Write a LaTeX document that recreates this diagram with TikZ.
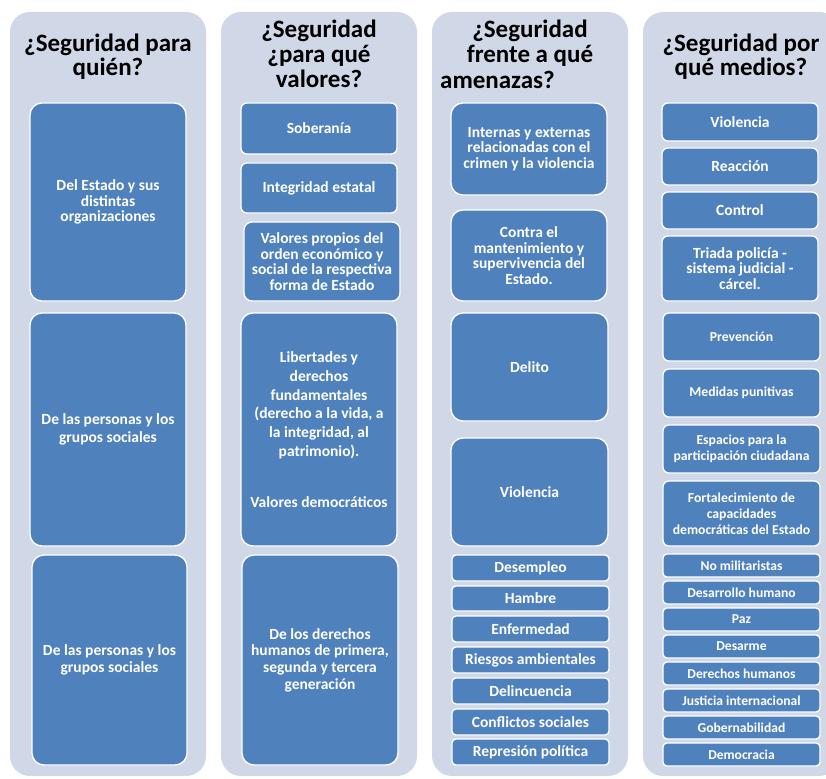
\documentclass[tikz,border=0pt]{standalone}
\usepackage{fontspec}
\setmainfont{Carlito}
\definecolor{colbgc}{HTML}{D0D8E8}
\definecolor{boxblue}{HTML}{4F81BD}
\newcommand\boxat[7]{%
  \node[bx,#1,minimum width={(#4-#2)*1pt},minimum height={(#5-#3)*1pt}] (#6) at ({(#2+#4)/2},{-(#3+#5)/2}) {#7};}
\newcommand\fs[2]{\bfseries\fontsize{#1}{#2}\selectfont}
\begin{document}
\begin{tikzpicture}[x=1pt,y=1pt,
  colbg/.style={fill=colbgc,rounded corners=20pt},
  bx/.style={draw=white,line width=1.3pt,fill=boxblue,text=white,font=\fs{15.5}{15.5},align=center,inner sep=0pt,rounded corners=12pt},
  mid/.style={rounded corners=6pt},
  sm/.style={rounded corners=4pt},
  ttl/.style={font=\fs{25}{25},text=black,inner sep=0pt,anchor=base}]
\useasboundingbox (0,0) rectangle (826,-778);
\clip (0,0) rectangle (826,-778);
% column backgrounds
\fill[colbg] (10,-12) rectangle (206,-776);
\fill[colbg] (221,-12) rectangle (417,-776);
\fill[colbg] (432,-12) rectangle (628,-776);
\fill[colbg] (643,-12) rectangle (839,-776);
% titles
\node[ttl] (t1a) at (108,-52) {¿Seguridad para};
\node[ttl] (t1b) at (108,-76) {quién?};
\node[ttl] (t2a) at (319,-38) {¿Seguridad};
\node[ttl] (t2b) at (319,-63) {¿para qué};
\node[ttl] (t2c) at (319,-88) {valores?};
\node[ttl] (t3a) at (530,-38) {¿Seguridad};
\node[ttl] (t3b) at (530,-63) {frente a qué};
\node[ttl,anchor=base west] (t3c) at (440,-89) {amenazas?};
\node[ttl] (t4a) at (741,-52) {¿Seguridad por};
\node[ttl] (t4b) at (741,-76) {qué medios?};
% column 1
\boxat{}{30}{103}{186}{301}{w1}{Del Estado y sus\\distintas\\organizaciones}
\boxat{font=\fs{15.5}{18}}{30}{313}{186}{546}{w2}{De las personas y los\\grupos sociales}
\boxat{font=\fs{15.5}{16.7}}{32}{555}{187}{765}{w3}{De las personas y los\\grupos sociales}
% column 2
\boxat{mid}{241}{103}{397}{154}{v1}{Soberanía}
\boxat{mid}{241}{163}{397}{213}{v2}{Integridad estatal}
\boxat{rounded corners=8pt,font=\fs{15.5}{15.7}}{244}{222}{400}{301}{v3}{Valores propios del\\orden económico y\\social de la respectiva\\forma de Estado}
\boxat{font=\fs{15.5}{18.8}}{241}{313}{397}{546}{v4}{Libertades y\\derechos\\fundamentales\\(derecho a la vida, a\\la integridad, al\\patrimonio).\\[32pt]Valores democráticos}
\boxat{font=\fs{15.5}{16.7}}{242}{555}{398}{765}{v5}{De los derechos\\humanos de primera,\\segunda y tercera\\generación}
% column 3
\boxat{}{451}{103}{607}{195}{a1}{Internas y externas\\relacionadas con el\\crimen y la violencia}
\boxat{font=\fs{15.5}{15.7}}{451}{210}{607}{301}{a2}{Contra el\\mantenimiento y\\supervivencia del\\Estado.}
\boxat{}{451}{313}{608}{421}{a3}{Delito}
\boxat{}{451}{438}{608}{546}{a4}{Violencia}
\boxat{sm}{452}{555}{609}{581}{a5}{Desempleo}
\boxat{sm}{452}{586}{609}{611}{a6}{Hambre}
\boxat{sm}{452}{616}{609}{642}{a7}{Enfermedad}
\boxat{sm}{452}{647}{609}{673}{a8}{Riesgos ambientales}
\boxat{sm}{452}{678}{609}{704}{a9}{Delincuencia}
\boxat{sm}{452}{709}{609}{735}{a10}{Conflictos sociales}
\boxat{sm}{452}{739}{609}{765}{a11}{Represión política}
% column 4
\boxat{mid}{662}{103}{818}{141}{m1}{Violencia}
\boxat{mid}{662}{148}{818}{185}{m2}{Reacción}
\boxat{mid}{662}{192}{818}{229}{m3}{Control}
\boxat{mid,font=\fs{15.5}{15.7}}{662}{236}{818}{301}{m4}{Triada policía -\\sistema judicial -\\cárcel.}
\boxat{mid,font=\fs{13.7}{16}}{663}{313}{820}{361}{m5}{Prevención}
\boxat{mid,font=\fs{13.7}{16}}{663}{369}{820}{417}{m6}{Medidas punitivas}
\boxat{mid,font=\fs{13.7}{16}}{663}{425}{820}{473}{m7}{Espacios para la\\participación ciudadana}
\boxat{mid,font=\fs{13.7}{16}}{663}{481}{820}{546}{m8}{Fortalecimiento de\\capacidades\\democráticas del Estado}
\boxat{sm,font=\fs{13.6}{15}}{663}{554}{820}{577}{m9}{No militaristas}
\boxat{sm,font=\fs{13.6}{15}}{663}{581}{820}{604}{m10}{Desarrollo humano}
\boxat{sm,font=\fs{13.6}{15}}{663}{608}{820}{631}{m11}{Paz}
\boxat{sm,font=\fs{13.6}{15}}{663}{635}{820}{658}{m12}{Desarme}
\boxat{sm,font=\fs{13.6}{15}}{663}{662}{820}{685}{m13}{Derechos humanos}
\boxat{sm,font=\fs{13.6}{15}}{663}{689}{820}{712}{m14}{Justicia internacional}
\boxat{sm,font=\fs{13.6}{15}}{663}{716}{820}{739}{m15}{Gobernabilidad}
\boxat{sm,font=\fs{13.6}{15}}{663}{743}{820}{766}{m16}{Democracia}
\end{tikzpicture}
\end{document}
